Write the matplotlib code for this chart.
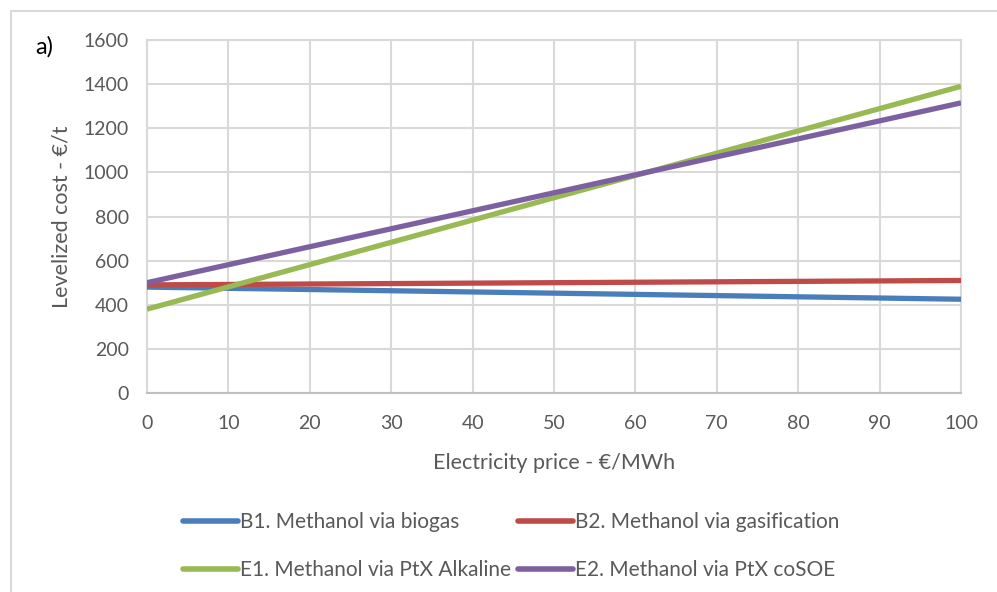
import matplotlib
matplotlib.use("Agg")
import matplotlib.pyplot as plt
from matplotlib.patches import Rectangle

plt.rcParams['font.family'] = ['Lato', 'DejaVu Sans']

# Electricity price (€/MWh) and levelized cost of methanol (€/t)
price = [0, 100]
b1_biogas = [480, 425]
b2_gasification = [490, 510]
e1_ptx_alkaline = [380, 1390]
e2_ptx_cosoe = [500, 1315]

labels = ["B1. Methanol via biogas", "B2. Methanol via gasification",
          "E1. Methanol via PtX Alkaline", "E2. Methanol via PtX coSOE"]
colors = ["#4a7ebb", "#be4b48", "#98b954", "#7d60a0"]

x_ticks = list(range(0, 101, 10))
y_ticks = list(range(0, 1601, 200))

text_color = "#595959"
grid_color = "#d9d9d9"

fig = plt.figure(figsize=(9.97, 5.92), dpi=100)
ax = fig.add_axes([147 / 997, 1 - 393 / 592, (961 - 147) / 997, (393 - 40) / 592])

series = [b1_biogas, b2_gasification, e1_ptx_alkaline, e2_ptx_cosoe]
handles = []
for vals, lab, col in zip(series, labels, colors):
    h, = ax.plot(price, vals, color=col, lw=3.8, solid_capstyle='butt', label=lab, zorder=3)
    handles.append(h)

ax.set_xlim(0, 100)
ax.set_ylim(0, 1600)
ax.set_xticks(x_ticks)
ax.set_yticks(y_ticks)
ax.grid(True, color=grid_color, lw=1.5)
ax.set_axisbelow(True)
for s in ['top', 'right', 'left']:
    ax.spines[s].set_color(grid_color)
    ax.spines[s].set_linewidth(1.5)
ax.spines['bottom'].set_color("#bfbfbf")
ax.spines['bottom'].set_linewidth(1.5)
ax.tick_params(length=0, labelsize=14, colors=text_color)
ax.tick_params(axis='x', pad=16)
ax.tick_params(axis='y', pad=13)
ax.set_xlabel("Electricity price - €/MWh", fontsize=15.5, color=text_color, labelpad=15)
ax.set_ylabel("Levelized cost - €/t", fontsize=15.5, color=text_color, labelpad=9)

fig.text(35 / 997, 1 - 47 / 592, "a)", fontsize=17, color="black", va='center', ha='left')

# legend laid out row by row: B1 | B2 on top, E1 | E2 below
order = [0, 2, 1, 3]
leg = fig.legend([handles[i] for i in order], [labels[i] for i in order], ncol=2,
                 loc='center left', bbox_to_anchor=(183 / 997, 1 - 546 / 592),
                 frameon=False, fontsize=15, handlelength=2.65, handletextpad=0.1,
                 columnspacing=0.3, labelspacing=1.35, borderaxespad=0, borderpad=0)
for t in leg.get_texts():
    t.set_color(text_color)
for lh in leg.get_lines():
    lh.set_linewidth(4)
    lh.set_solid_capstyle('round')

# outer chart frame
fig.patches.append(Rectangle((11 / 997, -0.1), 1.2, 1 - 11 / 592 + 0.1,
                             transform=fig.transFigure, fill=False,
                             edgecolor="#d9d9d9", lw=1.5))

fig.savefig("out.png", dpi=100)
